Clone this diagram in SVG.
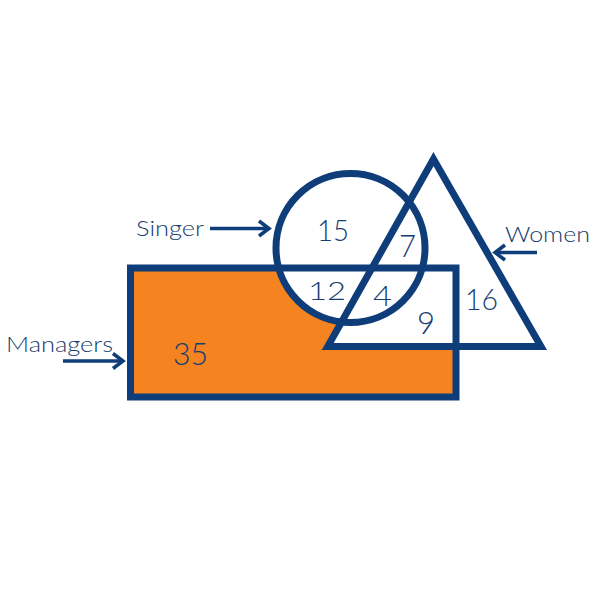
<svg xmlns="http://www.w3.org/2000/svg" width="600" height="600" viewBox="0 0 600 600">
  <defs>
    <style>
      .stroke { fill: none; stroke: #0E3D7A; stroke-width: 7; stroke-linejoin: miter; }
      .num { font-family: "Lato", "Open Sans", "DejaVu Sans", sans-serif; font-weight: 300; fill: #163D6E; }
      .lbl { font-family: "Lato", "Open Sans", "DejaVu Sans", sans-serif; font-weight: 300; font-size: 22px; fill: #163D6E; }
      .conn { stroke: #0E3D7A; stroke-width: 3.5; fill: none; }
    </style>
    <marker id="chev" markerUnits="userSpaceOnUse" viewBox="-14 -10 18 20" refX="0" refY="0" markerWidth="18" markerHeight="20" orient="auto">
      <path d="M-10,-7.5 L0,0 L-10,7.5" fill="none" stroke="#0E3D7A" stroke-width="3.5"/>
    </marker>
  </defs>
  <rect width="600" height="600" fill="#FFFFFF"/>

  <!-- fills -->
  <rect x="130.5" y="268" width="325.5" height="129" fill="#F48320"/>
  <circle cx="350.5" cy="248" r="74.5" fill="#FFFFFF"/>
  <polygon points="433.5,159 327.7,346.5 541,346.5" fill="#FFFFFF"/>

  <g id="managers">
    <rect class="stroke" x="130.5" y="268" width="325.5" height="129"/>
    <text class="num" x="173" y="365" font-size="32" textLength="35" lengthAdjust="spacingAndGlyphs">35</text>
  </g>
  <g id="singer">
    <circle class="stroke" cx="350.5" cy="248" r="74.5"/>
    <text class="num" x="317" y="241" font-size="30" textLength="32" lengthAdjust="spacingAndGlyphs">15</text>
    <text class="num" x="308" y="300" font-size="26" textLength="38" lengthAdjust="spacingAndGlyphs">12</text>
  </g>
  <g id="women">
    <polygon class="stroke" points="433.5,159 327.7,346.5 541,346.5"/>
    <text class="num" x="399" y="257" font-size="31" textLength="17" lengthAdjust="spacingAndGlyphs">7</text>
    <text class="num" x="373" y="306" font-size="28" textLength="19" lengthAdjust="spacingAndGlyphs">4</text>
    <text class="num" x="417" y="334" font-size="31" textLength="18" lengthAdjust="spacingAndGlyphs">9</text>
    <text class="num" x="465" y="310" font-size="29" textLength="33" lengthAdjust="spacingAndGlyphs">16</text>
  </g>

  <g id="labels">
    <text class="lbl" x="136" y="236" textLength="68" lengthAdjust="spacingAndGlyphs">Singer</text>
    <text class="lbl" x="6" y="352" textLength="107" lengthAdjust="spacingAndGlyphs">Managers</text>
    <text class="lbl" x="505" y="242" font-size="24" textLength="85" lengthAdjust="spacingAndGlyphs">Women</text>
  </g>

  <g id="connectors">
    <line class="conn" x1="210" y1="228.5" x2="269" y2="228.5" marker-end="url(#chev)"/>
    <line class="conn" x1="63" y1="361" x2="123" y2="361" marker-end="url(#chev)"/>
    <line class="conn" x1="537" y1="252.5" x2="495" y2="252.5" marker-end="url(#chev)"/>
  </g>
</svg>
